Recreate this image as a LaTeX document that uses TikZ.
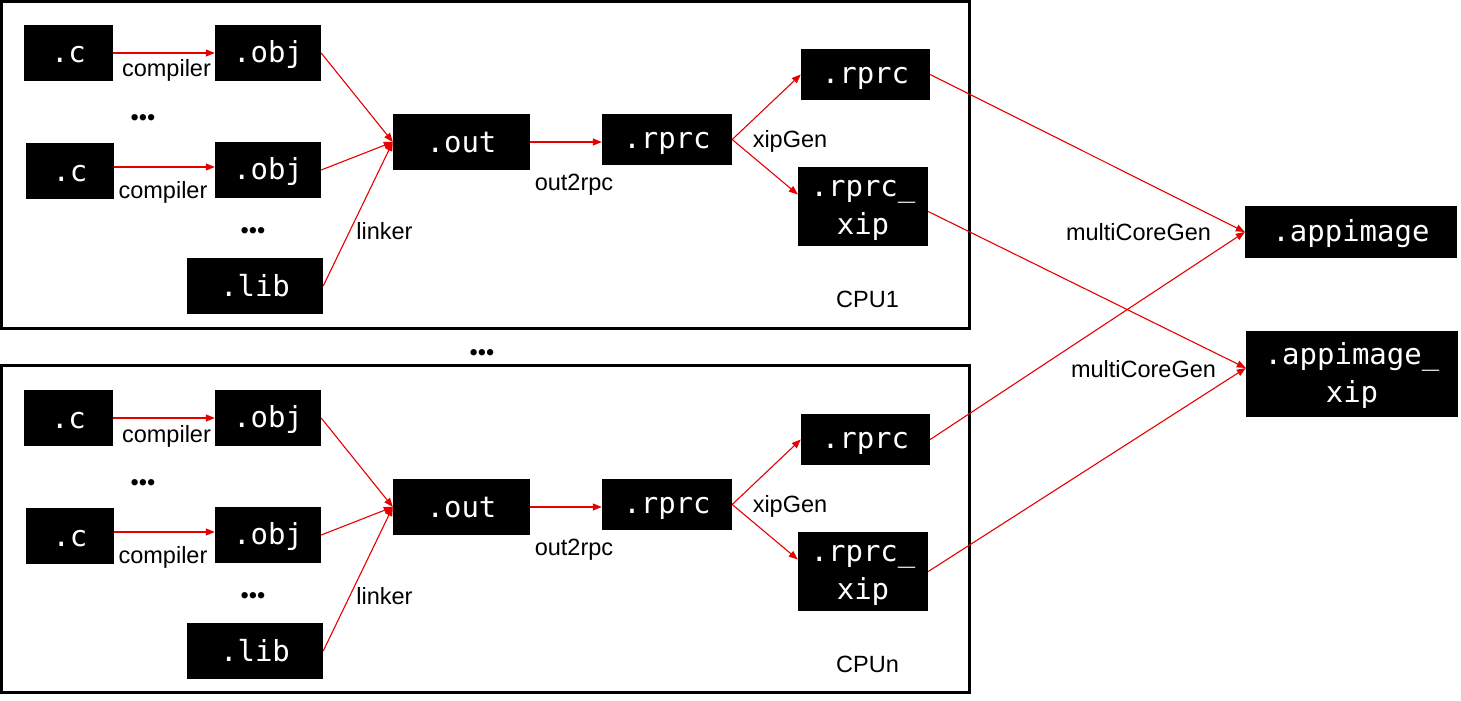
\documentclass[tikz,border=0pt]{standalone}
\usepackage{fontspec}
\setmainfont{Liberation Sans}
\newfontfamily\boxfont{DejaVu Sans Mono}
\usetikzlibrary{arrows.meta}
\definecolor{arrred}{RGB}{230,0,0}
\newcommand\topstrut{\rule{0pt}{25pt}}
\newcommand\botstrut{\rule[-5pt]{0pt}{5pt}}
\newcommand\onestrut{\rule[-5pt]{0pt}{30pt}}
\tikzset{
  filebox/.style={fill=black, text=white, inner sep=0pt, align=center,
    font=\boxfont\fontsize{29}{38}\selectfont},
  frame/.style={draw=black, line width=3pt, inner sep=0pt},
  lbl/.style={anchor=base, inner sep=0pt, font=\fontsize{23.5}{28}\selectfont},
  dots/.style={inner sep=0pt, font=\fontsize{23.5}{28}\selectfont},
  conn/.style={draw=arrred, line width=1.1pt, -{Triangle[length=9pt,width=7pt]}},
}
\begin{document}
\begin{tikzpicture}[x=1pt,y=-1pt]
\useasboundingbox (0,0) rectangle (1461,701);
% frames
\node[frame, minimum width=968pt, minimum height=327pt] (f1) at (485.5,165) {};
\node[frame, minimum width=968pt, minimum height=327pt] (f2) at (485.5,529) {};
% ---------- group 1 ----------
\node[filebox, minimum width=89pt, minimum height=56pt] (c1) at (68.5,53) {\onestrut.c};
\node[filebox, minimum width=106pt, minimum height=56pt] (o1) at (268,53) {\onestrut.obj};
\node[filebox, minimum width=88pt, minimum height=56pt] (c2) at (70,171) {\onestrut.c};
\node[filebox, minimum width=106pt, minimum height=56pt] (o2) at (268,170) {\onestrut.obj};
\node[filebox, minimum width=136pt, minimum height=56pt] (lib) at (255,286) {\onestrut.lib};
\node[filebox, minimum width=137pt, minimum height=56pt] (out) at (461.5,142) {\onestrut.out};
\node[filebox, minimum width=130pt, minimum height=51pt] (rm) at (667,139.5) {\onestrut.rprc};
\node[filebox, minimum width=129pt, minimum height=51pt] (rt) at (865.5,74.5) {\onestrut.rprc};
\node[filebox, minimum width=130pt, minimum height=79pt] (rx) at (863,206.5) {\topstrut.rprc\_\\xip\botstrut};
\node[dots] (d1) at (143,120) {•••};
\node[dots] (d2) at (253,233) {•••};
\node[lbl] (lc1) at (166.5,77) {compiler};
\node[lbl] (lc2) at (163,198) {compiler};
\node[lbl] (ll) at (384.5,239) {linker};
\node[lbl] (lo) at (574,190) {out2rpc};
\node[lbl] (lx) at (790,147) {xipGen};
\node[lbl] (lcpu1) at (867.5,307.5) {CPU1};
\draw[conn] (c1.east) -- (o1.west);
\draw[conn] (c2.east |- 0,167) -- (o2.west |- 0,167);
\draw[conn] (o1.east) -- (out.west);
\draw[conn] (o2.east) -- (out.west);
\draw[conn] (lib.east) -- (out.west);
\draw[conn] (out.east) -- (rm.west |- out.east);
\draw[conn] (rm.east) -- (rt.west);
\draw[conn] (rm.east) -- ([yshift=12pt]rx.west);
% middle dots
\node[dots] (dm) at (482,355.5) {•••};
% ---------- group 2 ----------
\node[filebox, minimum width=89pt, minimum height=56pt] (c3) at (68.5,418) {\onestrut.c};
\node[filebox, minimum width=106pt, minimum height=56pt] (o3) at (268,418) {\onestrut.obj};
\node[filebox, minimum width=88pt, minimum height=56pt] (c4) at (70,536) {\onestrut.c};
\node[filebox, minimum width=106pt, minimum height=56pt] (o4) at (268,535) {\onestrut.obj};
\node[filebox, minimum width=136pt, minimum height=56pt] (lib2) at (255,651) {\onestrut.lib};
\node[filebox, minimum width=137pt, minimum height=56pt] (out2) at (461.5,507) {\onestrut.out};
\node[filebox, minimum width=130pt, minimum height=51pt] (rm2) at (667,504.5) {\onestrut.rprc};
\node[filebox, minimum width=129pt, minimum height=51pt] (rt2) at (865.5,439.5) {\onestrut.rprc};
\node[filebox, minimum width=130pt, minimum height=79pt] (rx2) at (863,571.5) {\topstrut.rprc\_\\xip\botstrut};
\node[dots] (d3) at (143,485) {•••};
\node[dots] (d4) at (253,598) {•••};
\node[lbl] (lc3) at (166.5,442) {compiler};
\node[lbl] (lc4) at (163,563) {compiler};
\node[lbl] (ll2) at (384.5,604) {linker};
\node[lbl] (lo2) at (574,555) {out2rpc};
\node[lbl] (lx2) at (790,512) {xipGen};
\node[lbl] (lcpu2) at (867.5,672.5) {CPUn};
\draw[conn] (c3.east) -- (o3.west);
\draw[conn] (c4.east |- 0,532) -- (o4.west |- 0,532);
\draw[conn] (o3.east) -- (out2.west);
\draw[conn] (o4.east) -- (out2.west);
\draw[conn] (lib2.east) -- (out2.west);
\draw[conn] (out2.east) -- (rm2.west |- out2.east);
\draw[conn] (rm2.east) -- (rt2.west);
\draw[conn] (rm2.east) -- ([yshift=12pt]rx2.west);
% ---------- outputs ----------
\node[filebox, minimum width=212pt, minimum height=52pt] (app) at (1351,232) {\onestrut.appimage};
\node[filebox, minimum width=212pt, minimum height=86pt] (appx) at (1352,374) {\topstrut.appimage\_\\xip\botstrut};
\node[lbl] (lm1) at (1138.5,240.5) {multiCoreGen};
\node[lbl] (lm2) at (1143.5,377.5) {multiCoreGen};
\draw[conn] (rt.east) -- (app.west);
\draw[conn] ([yshift=-5pt]rx.east) -- ([yshift=6pt]appx.west);
\draw[conn] (rt2.east) -- (app.west);
\draw[conn] (rx2.east) -- ([yshift=6pt]appx.west);
\end{tikzpicture}
\end{document}
